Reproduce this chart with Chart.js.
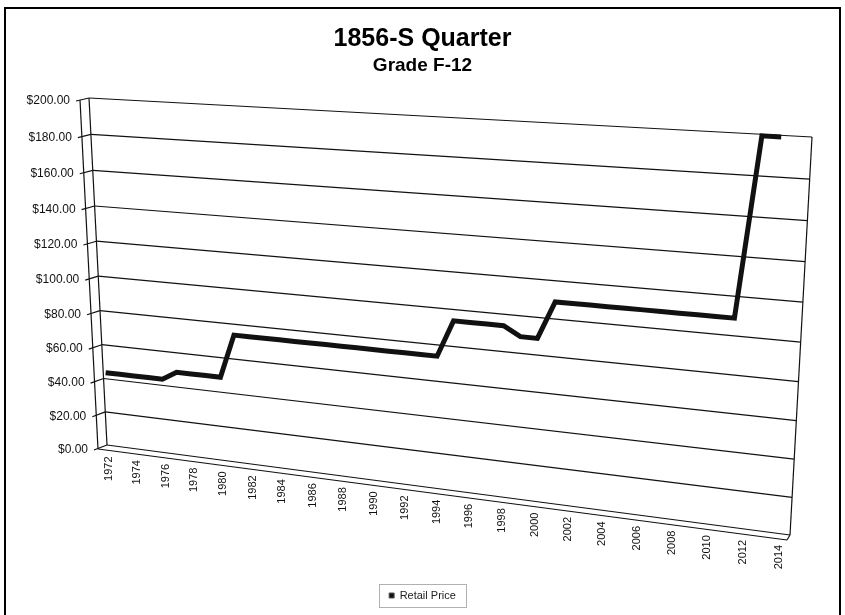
<!DOCTYPE html>
<html>
<head>
<meta charset="utf-8">
<script src="https://cdn.jsdelivr.net/npm/chart.js@4.4.1/dist/chart.umd.min.js"></script>
<style>
  html, body { margin: 0; padding: 0; background: #ffffff; }
  #wrap { width: 845px; height: 615px; }
</style>
</head>
<body>
<div id="wrap"><canvas id="chart" width="845" height="615"></canvas></div>
<script>
// ---------------- data ----------------
const years = [1972, 1973, 1974, 1975, 1976, 1977, 1978, 1979, 1980, 1981,
               1982, 1983, 1984, 1985, 1986, 1987, 1988, 1989, 1990, 1991,
               1992, 1993, 1994, 1995, 1996, 1997, 1998, 1999, 2000, 2001,
               2002, 2003, 2004, 2005, 2006, 2007, 2008, 2009, 2010, 2011,
               2012, 2013, 2014];
const retailPrice = [45, 45, 45, 45, 45, 50, 50, 50, 50, 75,
                     75, 75, 75, 75, 75, 75, 75, 75, 75, 75,
                     75, 75, 75, 95, 95, 95, 95, 90, 90, 110,
                     110, 110, 110, 110, 110, 110, 110, 110, 110, 110,
                     200, 200, null];
const yTickValues = [0, 20, 40, 60, 80, 100, 120, 140, 160, 180, 200];
const yTickLabels = yTickValues.map(v => '$' + v.toFixed(2));
const xTickLabels = ['1972', '1974', '1976', '1978', '1980', '1982', '1984', '1986',
                     '1988', '1990', '1992', '1994', '1996', '1998', '2000', '2002',
                     '2004', '2006', '2008', '2010', '2012', '2014'];

// ---------------- 3-D look (geometry of the back wall) ----------------
const FONT = "'Liberation Sans', Arial, Helvetica, sans-serif";
const wall = [ {x:107, y:445}, {x:790, y:535}, {x:812, y:137}, {x:89, y:98} ]; // (u,v)=(0,0),(1,0),(1,1),(0,1)

function makeHomography(q) {
  const [p0, p1, p2, p3] = q;
  const sx = p0.x - p1.x + p2.x - p3.x, sy = p0.y - p1.y + p2.y - p3.y;
  const dx1 = p1.x - p2.x, dx2 = p3.x - p2.x, dy1 = p1.y - p2.y, dy2 = p3.y - p2.y;
  const den = dx1 * dy2 - dx2 * dy1;
  const g = (sx * dy2 - dx2 * sy) / den, h = (dx1 * sy - sx * dy1) / den;
  const a = p1.x - p0.x + g * p1.x, b = p3.x - p0.x + h * p3.x, c = p0.x;
  const d = p1.y - p0.y + g * p1.y, e = p3.y - p0.y + h * p3.y, f = p0.y;
  return (u, v) => { const w = g * u + h * v + 1; return { x: (a * u + b * v + c) / w, y: (d * u + e * v + f) / w }; };
}
const P = makeHomography(wall);
const depth = (u, v) => ({ x: -9 + 6 * u, y: 4 + u - 2 * v });
const F = (u, v) => { const p = P(u, v), d = depth(u, v); return { x: p.x + d.x, y: p.y + d.y }; };

function uvOf(chart, px, py) {
  const a = chart.chartArea;
  return { u: (px - a.left) / (a.right - a.left), v: (a.bottom - py) / (a.bottom - a.top) };
}

function line(ctx, a, b) { ctx.beginPath(); ctx.moveTo(a.x, a.y); ctx.lineTo(b.x, b.y); ctx.stroke(); }

const perspective = {
  id: 'perspective',
  afterDatasetsUpdate(chart) {
    chart.getSortedVisibleDatasetMetas().forEach(meta => {
      meta.data.forEach(pt => {
        if (!isFinite(pt.y)) return;
        const q = uvOf(chart, pt.x, pt.y);
        const p = P(q.u, q.v), d = depth(q.u, q.v);
        pt.x = p.x + d.x * 0.5;
        pt.y = p.y + d.y * 0.5;
      });
    });
  },
  beforeDraw(chart) {
    const ctx = chart.ctx;
    const xs = chart.scales.x, ys = chart.scales.y;
    ctx.save();
    ctx.fillStyle = '#ffffff';
    ctx.fillRect(0, 0, chart.width, chart.height);
    // outer frame
    ctx.strokeStyle = '#000000';
    ctx.lineWidth = 2;
    ctx.strokeRect(5, 8, 835, 620);

    ctx.strokeStyle = '#111111';
    ctx.lineWidth = 1.2;
    // gridlines on back wall and side wall
    yTickValues.forEach(val => {
      const v = uvOf(chart, 0, ys.getPixelForValue(val)).v;
      line(ctx, P(0, v), P(1, v));
      const f = F(0, v);
      line(ctx, { x: f.x - 4, y: f.y + 1 }, P(0, v));
    });
    // wall edges
    line(ctx, P(0, 0), P(0, 1));
    line(ctx, P(1, 0), P(1, 1));
    line(ctx, F(0, 0), F(0, 1));
    // floor
    line(ctx, F(0, 0), F(1, 0));
    line(ctx, F(1, 0), P(1, 0));

    // y labels
    ctx.fillStyle = '#111111';
    ctx.font = '12px ' + FONT;
    ctx.textAlign = 'right';
    ctx.textBaseline = 'middle';
    yTickValues.forEach((val, i) => {
      const v = uvOf(chart, 0, ys.getPixelForValue(val)).v;
      const f = F(0, v);
      ctx.fillText(yTickLabels[i], f.x - 10, f.y + 1);
    });
    // x labels (rotated)
    ctx.font = '11px ' + FONT;
    xTickLabels.forEach(lbl => {
      const idx = years.indexOf(Number(lbl));
      const u = uvOf(chart, xs.getPixelForValue(idx), 0).u;
      const p = P(u, 0), d = depth(u, 0);
      ctx.save();
      ctx.translate(p.x + d.x * 0.5, p.y + d.y * 0.5 + 8.5);
      ctx.rotate(-Math.PI / 2);
      ctx.textAlign = 'right';
      ctx.textBaseline = 'middle';
      ctx.fillText(lbl, 0, 0);
      ctx.restore();
    });
    ctx.restore();
  },
  afterDraw(chart) {
    const lg = chart.legend;
    if (!lg || !lg.legendHitBoxes || !lg.legendHitBoxes.length) return;
    const hb = lg.legendHitBoxes[0];
    const ctx = chart.ctx;
    ctx.save();
    ctx.strokeStyle = '#b0b0b0';
    ctx.lineWidth = 1;
    ctx.strokeRect(Math.round(hb.left - 10) + 0.5, Math.round(hb.top - 6) + 0.5, Math.round(hb.width + 20), Math.round(hb.height + 12));
    ctx.restore();
  }
};

new Chart(document.getElementById('chart'), {
  type: 'line',
  data: {
    labels: years.map(String),
    datasets: [{
      label: 'Retail Price',
      data: retailPrice,
      borderColor: '#111111',
      backgroundColor: '#111111',
      borderWidth: 5,
      pointRadius: 0,
      pointHoverRadius: 0,
      tension: 0,
      clip: false,
      borderJoinStyle: 'miter',
      spanGaps: false
    }]
  },
  options: {
    responsive: false,
    animation: false,
    devicePixelRatio: 1,
    events: [],
    layout: { padding: { left: 30, right: 30, top: 0, bottom: 4 } },
    scales: {
      x: { type: 'category', offset: true, display: false },
      y: { type: 'linear', min: 0, max: 200, display: false }
    },
    plugins: {
      title: {
        display: true, text: '1856-S Quarter', color: '#000000',
        font: { family: FONT, size: 25, weight: 'bold' },
        padding: { top: 24, bottom: 0 }
      },
      subtitle: {
        display: true, text: 'Grade F-12', color: '#000000',
        font: { family: FONT, size: 19, weight: 'bold' },
        padding: { top: 0, bottom: 10 }
      },
      legend: {
        display: true, position: 'bottom',
        labels: {
          color: '#222222', boxWidth: 5, boxHeight: 5, padding: 10,
          font: { family: FONT, size: 11 },
          generateLabels(chart) {
            const items = Chart.defaults.plugins.legend.labels.generateLabels(chart);
            items.forEach(it => { it.lineWidth = 1; it.fillStyle = '#111111'; it.strokeStyle = '#555555'; });
            return items;
          }
        }
      },
      tooltip: { enabled: false }
    }
  },
  plugins: [perspective]
});
</script>
</body>
</html>
